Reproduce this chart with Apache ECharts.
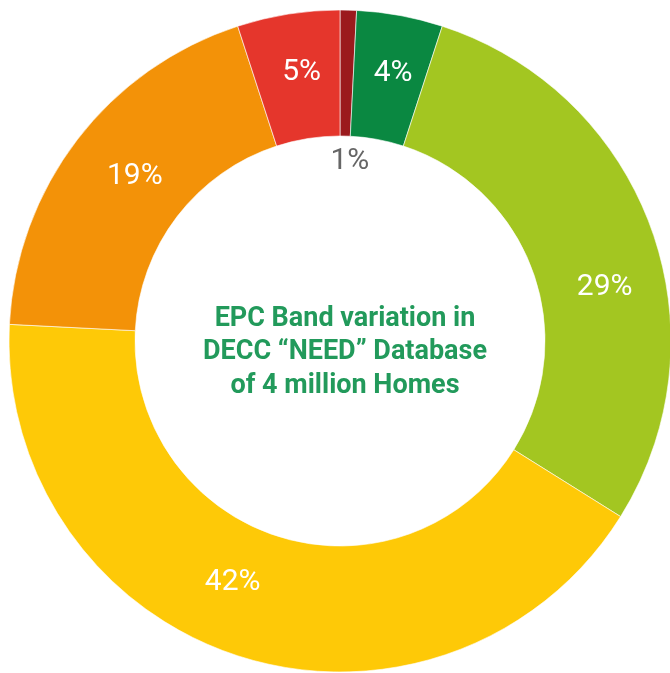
<!DOCTYPE html>
<html>
<head>
<meta charset="utf-8">
<script src="https://cdn.jsdelivr.net/npm/echarts@6/dist/echarts.min.js"></script>
<style>
html,body{margin:0;padding:0;background:#fff;}
#chart{width:670px;height:673px;}
</style>
</head>
<body>
<div id="chart"></div>
<script>
// EPC bands, clockwise from 12 o'clock
var bands = ['G', 'A/B', 'C', 'D', 'E', 'F'];
var shares = [0.8, 4.2, 28.9, 41.9, 19.2, 5.0];
var colors = ['#9b1a1d', '#0a8841', '#a3c621', '#fec907', '#f39208', '#e5362c'];
var centerTitle = 'EPC Band variation in\nDECC \u201CNEED\u201D Database\nof 4 million Homes';

// label nudges (layout styling, not data)
var labelStyles = [
  { color: '#666666', offset: [3, 91] },
  { offset: [4, -1] },
  { offset: [10, 39] },
  { offset: [-26, -17] },
  { offset: [10, 0] },
  { offset: [4, -1] }
];

var data = bands.map(function (b, i) {
  return { name: b, value: shares[i], itemStyle: { color: colors[i] }, label: labelStyles[i] };
});

var chart = echarts.init(document.getElementById('chart'), null, { renderer: 'canvas' });
chart.setOption({
  animation: false,
  title: {
    text: centerTitle,
    left: 340,
    top: 297,
    textAlign: 'center',
    textStyle: {
      fontFamily: 'Roboto',
      fontWeight: 'bold',
      fontSize: 27,
      lineHeight: 33.5,
      color: '#229a5b'
    }
  },
  series: [{
    type: 'pie',
    center: [340, 341],
    radius: [205, 331],
    startAngle: 90,
    clockwise: true,
    avoidLabelOverlap: false,
    itemStyle: { borderColor: '#ffffff', borderWidth: 0.6 },
    label: {
      show: true,
      position: 'inside',
      fontFamily: 'Roboto',
      fontSize: 30,
      color: '#ffffff',
      formatter: function (p) { return Math.round(p.value) + '%'; }
    },
    labelLine: { show: false },
    emphasis: { disabled: true },
    data: data
  }]
});
</script>
</body>
</html>
